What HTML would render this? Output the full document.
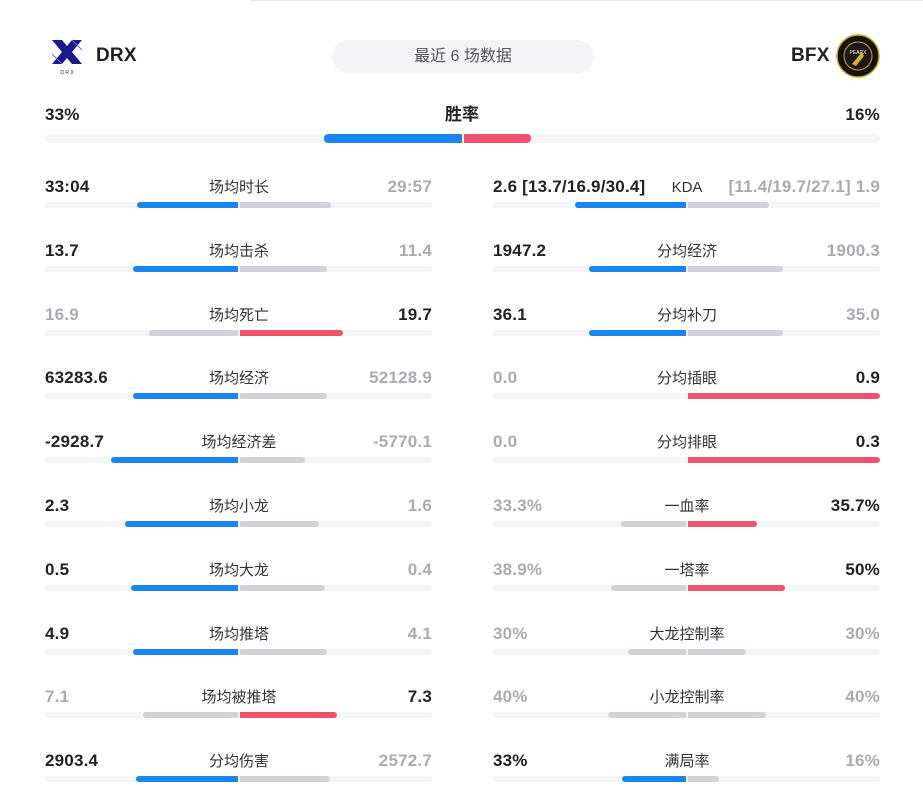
<!DOCTYPE html>
<html><head><meta charset="utf-8">
<style>
body{margin:0;background:#fff;width:923px;height:798px;overflow:hidden;position:relative;font-family:"Liberation Sans","Noto Sans CJK SC",sans-serif}
.abs{position:absolute}
.num{font-weight:bold;font-size:17px;line-height:20px;white-space:nowrap;letter-spacing:0.2px}
.win{color:#222}.lose{color:#a9abb1}
.lbl{font-size:15px;color:#333;line-height:20px;white-space:nowrap;transform:translateX(-50%)}
.track{background:#f4f5f7;height:6px;border-radius:3px}
.bar{height:6px}
</style></head><body>
<div class="abs" style="left:250px;top:0;width:673px;height:1px;background:#e6e6e6"></div>
<svg class="abs" style="left:50px;top:38px" width="36" height="38" viewBox="0 0 36 38">
<polygon points="2,2 12,2 32,26 22,26" fill="#1a1a8c"/><polygon points="2,26 12,26 32,2 22,2" fill="#1a1a8c"/>
<line x1="22" y1="2" x2="32" y2="12" stroke="#6a6adc" stroke-width="1"/><line x1="2" y1="16" x2="12" y2="26" stroke="#6a6adc" stroke-width="1"/>
<text x="17" y="36" font-size="5" text-anchor="middle" fill="#1a1a8c" font-family="Liberation Sans">D R X</text></svg>
<div class="abs num win" style="left:96px;top:46px;font-size:19px">DRX</div>
<div class="abs" style="left:332px;top:40px;width:262px;height:33px;border-radius:17px;background:#f3f4f6;text-align:center;line-height:33px;font-size:16px;color:#555">最近 6 场数据</div>
<div class="abs num win" style="left:791px;top:46px;font-size:19px">BFX</div>
<svg class="abs" style="left:836px;top:34px" width="44" height="44" viewBox="0 0 44 44">
<circle cx="22" cy="22" r="21" fill="#111" stroke="#d4a414" stroke-width="1.5"/><circle cx="22" cy="22" r="14" fill="#1a1a1a" stroke="#d4a414" stroke-width="1"/>
<text x="22" y="20" font-size="5" text-anchor="middle" fill="#fff" font-family="Liberation Sans">PEARX</text>
<polygon points="16,30 26,18 28,22 20,32" fill="#e0b020"/></svg>
<div id="root"></div>
<script>
const winLeft=33, winRight=16;
const leftLabels=['场均时长','场均击杀','场均死亡','场均经济','场均经济差','场均小龙','场均大龙','场均推塔','场均被推塔','分均伤害'];
const leftA=['33:04','13.7','16.9','63283.6','-2928.7','2.3','0.5','4.9','7.1','2903.4'];
const leftB=['29:57','11.4','19.7','52128.9','-5770.1','1.6','0.4','4.1','7.3','2572.7'];
const rightLabels=['KDA','分均经济','分均补刀','分均插眼','分均排眼','一血率','一塔率','大龙控制率','小龙控制率','满局率'];
const rightA=['2.6 [13.7/16.9/30.4]','1947.2','36.1','0.0','0.0','33.3%','38.9%','30%','40%','33%'];
const rightB=['[11.4/19.7/27.1] 1.9','1900.3','35.0','0.9','0.3','35.7%','50%','30%','40%','16%'];
const BLUE='#1a86f0',RED='#f0526e',GRAY='#d2d3d8';
const root=document.getElementById('root');
function mk(cls,st,name,txt){const d=document.createElement('div');d.className='abs '+cls;d.style.cssText=st;


if(txt!==undefined)d.textContent=txt;root.appendChild(d);return d;}
function val(s){if(s.indexOf(':')>=0){const p=s.split(':');return +p[0]*60+ +p[1];}
const m=s.match(/^\[.*\]\s*([\d.]+)$/);if(m)return +m[1];return parseFloat(s);}
mk('num win','left:45px;top:105px','win-rate-left',winLeft+'%');
mk('num win','right:43px;top:105px','win-rate-right',winRight+'%');
mk('','left:445px;top:105px;font-size:17px;font-weight:bold;color:#222;line-height:20px','win-rate-label','胜率');
mk('track','left:45px;top:134px;width:835px;height:9px;border-radius:4px','win-rate-track');
const half=417;
mk('bar','left:'+(462-winLeft/100*half)+'px;top:134px;height:9px;width:'+(winLeft/100*half)+'px;background:'+BLUE+';border-radius:4px 0 0 4px','win-rate-bar-left');
mk('bar','left:464px;top:134px;height:9px;width:'+(winRight/100*half)+'px;background:'+RED+';border-radius:0 4px 4px 0','win-rate-bar-right');
function drawCol(x0,labels,A,B,prefix){
 const w=387,c=x0+Math.round(w/2)-1;
 labels.forEach((lab,i)=>{
  const y=177+i*63.8;
  let a=val(A[i]),b=val(B[i]);let la,lb;
  if(A[i].indexOf('%')>=0){la=a*1.94;lb=b*1.94;}
  else{let aa=Math.abs(a),bb=Math.abs(b);if(a<0&&b<0){const t=aa;aa=bb;bb=t;}
   const s=aa+bb;la=s?aa/s*192:0;lb=s?bb/s*192:0;}
  const leftWins=a>b, rightWins=b>a;
  mk('num '+(leftWins?'win':'lose'),'left:'+x0+'px;top:'+y+'px',prefix+'-value-left-'+i,A[i]);
  mk('num '+(rightWins?'win':'lose'),'left:'+(x0+w-300)+'px;width:300px;text-align:right;top:'+y+'px',prefix+'-value-right-'+i,B[i]);
  mk('lbl','left:'+(c+1)+'px;top:'+(y+1)+'px',prefix+'-label-'+i,lab);
  mk('track','left:'+x0+'px;top:'+(y+25)+'px;width:'+w+'px',prefix+'-track-'+i);
  if(la>0)mk('bar','left:'+(c-la)+'px;top:'+(y+25)+'px;width:'+la+'px;border-radius:3px 0 0 3px;background:'+(leftWins?BLUE:GRAY),prefix+'-bar-left-'+i);
  if(lb>0)mk('bar','left:'+(c+2)+'px;top:'+(y+25)+'px;width:'+lb+'px;border-radius:0 3px 3px 0;background:'+(rightWins?RED:GRAY),prefix+'-bar-right-'+i);
 });
}
drawCol(45,leftLabels,leftA,leftB,'left-stat');
drawCol(493,rightLabels,rightA,rightB,'right-stat');
</script>
</body></html>
